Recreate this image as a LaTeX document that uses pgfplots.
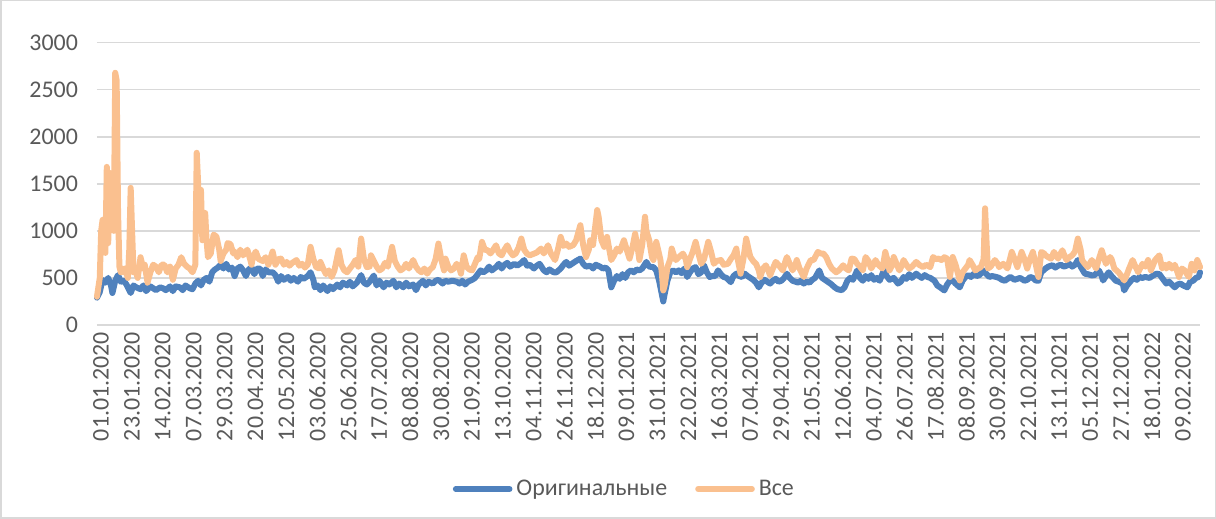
\documentclass[border=0pt]{standalone}
\usepackage{pgfplots}
\pgfplotsset{compat=1.18}
\usepackage{fontspec}
\setmainfont{Carlito}
\definecolor{blueS}{RGB}{79,129,189}
\definecolor{orangeS}{RGB}{250,192,143}
\definecolor{gridc}{RGB}{217,217,217}
\definecolor{txt}{RGB}{89,89,89}
\begin{document}
\begin{tikzpicture}
\draw[gridc, line width=0.75bp] (0.4bp,0.4bp) rectangle (607.6bp,259.1bp);
\begin{axis}[
  at={(48.5bp,97bp)}, anchor=south west, scale only axis,
  width=551.5bp, height=141.15bp,
  xmin=0, xmax=785, ymin=0, ymax=3000,
  ytick={0,500,...,3000},
  xtick={0,22,...,770},
  xticklabels={01.01.2020,23.01.2020,14.02.2020,07.03.2020,29.03.2020,20.04.2020,12.05.2020,03.06.2020,25.06.2020,17.07.2020,08.08.2020,30.08.2020,21.09.2020,13.10.2020,04.11.2020,26.11.2020,18.12.2020,09.01.2021,31.01.2021,22.02.2021,16.03.2021,07.04.2021,29.04.2021,21.05.2021,12.06.2021,04.07.2021,26.07.2021,17.08.2021,08.09.2021,30.09.2021,22.10.2021,13.11.2021,05.12.2021,27.12.2021,18.01.2022,09.02.2022},
  axis line style={draw=none},
  major tick length=0pt,
  ymajorgrids, grid style={gridc, line width=0.75bp},
  /pgf/number format/assume math mode=true,
  /pgf/number format/1000 sep={},
  tick label style={font=\fontsize{12}{14}\selectfont, text=txt},
  yticklabel style={xshift=-6bp},
  xticklabel style={rotate=90, anchor=east, yshift=-2bp},
  clip=false,
  legend style={at={(0.479,-0.581)}, anchor=center, draw=none, fill=none,
    legend columns=2, font=\fontsize{12}{14}\selectfont, text=txt,
    /tikz/every even column/.append style={column sep=12bp}},
  legend image code/.code={\draw[#1, line width=2.8bp, line cap=round] (0bp,0bp) -- (27bp,0bp);},
]
\addplot[blueS, line width=3bp, line join=round, line cap=round] coordinates {
(0,290) (2,350) (4,480) (6,450) (8,500) (10,420) (11,340) (13,470) (15,530) (17,460) (19,470) (21,430) (24,340) (26,420) (28,400) (31,380) (33,420) (35,360) (38,410) (40,390) (42,370) (45,400) (47,390) (49,370) (52,410) (54,360) (56,410) (59,400) (61,370) (63,420) (66,390) (68,380) (70,440) (72,470) (74,420) (76,480) (78,500) (80,460) (82,560) (84,590) (86,610) (88,640) (90,600) (92,650) (94,590) (96,610) (98,520) (100,600) (102,620) (104,580) (106,520) (108,590) (110,610) (112,540) (114,600) (116,600) (118,520) (120,590) (122,560) (125,560)
(127,530) (129,460) (131,520) (133,480) (136,510) (138,470) (140,500) (143,460) (145,510) (147,490) (150,520) (152,560) (154,480) (155,400) (157,420) (159,370) (161,420) (164,360) (166,410) (168,380) (171,430) (173,400) (175,450) (178,420) (180,460) (182,410) (185,450) (188,530) (190,450) (192,430) (194,460) (197,525) (199,420) (201,470) (204,400) (206,450) (208,430) (211,470) (213,400) (215,440) (218,400) (220,450) (222,410) (225,430) (227,370) (229,430) (232,470) (234,420) (236,460) (239,440) (241,470) (243,480) (246,440) (248,470) (250,460) (253,470) (256,460)
(258,440) (260,470) (262,430) (264,460) (267,480) (269,500) (271,540) (273,580) (275,560) (277,580) (279,620) (281,580) (284,615) (286,650) (288,600) (290,640) (292,660) (294,620) (297,650) (299,630) (302,660) (304,690) (306,630) (308,640) (311,600) (313,630) (315,650) (318,580) (320,560) (322,590) (325,560) (327,560) (330,600) (332,640) (334,670) (336,630) (339,660) (341,680) (344,705) (346,650) (348,620) (351,630) (353,600) (355,640) (358,620) (360,600) (362,610) (364,580) (366,400) (368,470) (370,520) (372,490) (374,540) (376,500) (378,560) (380,580) (382,560) (384,590) (386,580)
(388,600) (391,670) (393,620) (396,615) (398,580) (400,473) (403,250) (404,330) (406,473) (408,560) (410,580) (412,560) (414,580) (416,550) (418,600) (420,510) (422,560) (424,600) (426,615) (428,540) (430,560) (432,634) (434,560) (436,510) (438,520) (440,520) (442,580) (444,540) (446,510) (448,500) (451,455) (453,520) (455,545) (457,520) (459,510) (461,545) (463,520) (465,500) (467,480) (469,450) (471,400) (473,450) (475,480) (477,460) (479,440) (481,470) (483,490) (485,460) (487,470) (489,500) (491,545) (493,500) (495,470) (497,460) (499,450) (501,470) (503,440) (505,460) (507,450) (509,480) (511,500) (514,580)
(516,500) (518,480) (520,460) (522,440) (525,400) (527,380) (530,370) (532,400) (534,470) (536,500) (538,480) (541,580) (543,500) (545,470) (547,520) (549,490) (551,530) (553,480) (555,500) (557,470) (560,580) (562,520) (564,480) (567,500) (570,440) (572,460) (574,510) (576,490) (578,540) (580,500) (583,545) (585,520) (587,500) (589,530) (591,510) (593,500) (596,470) (598,420) (600,400) (603,367) (605,430) (607,470) (609,470) (611,440) (614,400) (616,470) (618,510) (620,530) (622,510) (624,545) (626,520) (628,530) (631,580) (633,540) (635,510) (637,520) (640,510) (642,500)
(644,480) (646,470) (648,490) (650,510) (653,480) (655,490) (657,500) (660,470) (662,480) (664,510) (666,500) (668,473) (670,470) (672,560) (675,600) (677,620) (680,635) (682,610) (684,630) (686,640) (688,620) (690,630) (692,650) (694,620) (696,640) (698,690) (700,620) (703,545) (705,540) (708,527) (710,530) (713,580) (715,520) (716,473) (718,520) (720,560) (722,520) (725,470) (727,460) (730,440) (731,367) (733,420) (736,473) (738,500) (740,480) (742,510) (744,500) (746,510) (749,500) (751,520) (754,545) (756,540) (758,500) (761,440) (763,460) (765,430) (767,400) (769,430) (771,440) (773,420) (776,400) (778,460) (780,470) (782,500) (784,510) (785,560)
};
\addlegendentry{Оригинальные}
\addplot[orangeS, line width=3bp, line join=round, line cap=round] coordinates {
(0,300) (2,500) (3,1000) (4,1117) (5,900) (6,766) (7,1680) (8,870) (9,1617) (10,1117) (11,1362) (12,1000) (13,2680) (14,2600) (15,1200) (16,617) (17,560) (18,600) (19,560) (20,600) (22,500) (23,800) (24,1457) (25,1000) (26,560) (27,600) (28,550) (29,500) (31,720) (33,600) (34,640) (36,450) (38,560) (40,640) (42,620) (44,560) (46,640) (48,640) (50,560) (52,620) (54,480) (56,600) (58,640) (60,720) (62,650) (64,620) (66,600) (68,560) (70,640) (71,1830) (72,1500) (73,1000) (74,1436) (75,900) (76,1000) (77,1190) (78,900) (79,720) (81,760) (83,960) (85,940) (87,800) (88,680) (90,760) (92,800) (93,870) (95,860) (97,760) (98,780) (100,720) (102,800) (104,740) (107,800) (109,700) (110,640) (111,720) (113,780) (115,700) (118,680) (120,720) (122,640) (125,780)
(127,640) (129,700) (131,705) (133,640) (135,670) (137,630) (139,660) (142,690) (144,630) (146,650) (148,610) (150,640) (152,830) (154,700) (156,615) (158,600) (159,670) (161,600) (163,540) (165,580) (167,510) (169,580) (172,794) (174,640) (176,580) (178,560) (180,600) (182,640) (184,690) (186,620) (188,918) (190,700) (192,615) (194,620) (195,740) (197,680) (199,620) (201,580) (203,600) (205,660) (207,620) (210,830) (212,680) (214,620) (216,580) (218,600) (220,650) (222,600) (225,690) (227,620) (229,580) (231,560) (233,600) (235,545) (237,590) (239,615) (241,700) (243,865) (245,700) (247,580) (248,705) (250,620) (252,580) (254,600) (256,650)
(258,600) (259,545) (261,740) (263,620) (265,590) (267,580) (269,650) (271,722) (272,700) (274,883) (276,800) (278,794) (280,760) (282,800) (284,847) (286,760) (288,740) (290,800) (292,847) (294,780) (296,740) (298,760) (300,820) (302,918) (304,800) (306,758) (308,740) (311,758) (313,770) (316,812) (318,760) (321,847) (323,760) (326,690) (328,800) (330,936) (332,840) (334,865) (336,830) (339,850) (341,900) (344,1060) (346,850) (348,722) (350,800) (351,900) (353,850) (355,1100) (356,1221) (357,1150) (359,900) (361,830) (363,936) (364,850) (366,690) (368,740) (370,812) (372,780) (375,900) (377,800) (379,705) (381,820) (383,970) (385,800)
(386,690) (388,850) (390,1150) (391,1000) (393,900) (395,720) (396,690) (398,883) (399,820) (401,690) (402,550) (403,367) (404,420) (406,615) (408,700) (409,812) (411,720) (412,690) (414,720) (417,758) (419,700) (420,615) (422,700) (424,780) (426,883) (428,760) (430,650) (432,700) (435,883) (437,780) (439,650) (441,680) (444,690) (446,640) (449,650) (451,700) (453,740) (455,812) (456,700) (458,545) (460,700) (462,918) (464,780) (465,722) (467,680) (469,650) (471,580) (472,510) (474,600) (476,634) (478,570) (479,527) (481,600) (483,670) (485,640) (488,580) (490,680) (491,722) (493,650) (495,580) (497,640) (498,690) (500,600) (503,510) (505,600) (508,690) (510,690) (513,776)
(515,760) (517,758) (519,720) (521,650) (523,600) (526,560) (528,580) (531,634) (533,600) (535,580) (537,705) (539,700) (541,650) (543,620) (545,580) (547,722) (549,680) (551,600) (553,650) (554,690) (556,640) (559,600) (561,776) (563,660) (564,580) (566,640) (567,722) (569,650) (571,580) (573,640) (574,690) (576,640) (578,600) (580,620) (583,670) (585,640) (588,615) (590,640) (593,615) (595,722) (597,700) (599,705) (601,690) (603,720) (605,705) (607,510) (609,722) (611,640) (614,473) (616,560) (618,600) (620,640) (621,690) (623,640) (625,580) (627,600) (629,615) (631,700) (632,1240) (633,900) (634,600) (636,620) (639,690) (641,650)
(642,615) (645,650) (648,600) (651,776) (653,700) (655,615) (658,776) (660,700) (662,600) (664,700) (666,776) (668,650) (670,510) (672,776) (674,760) (675,740) (677,720) (679,705) (681,776) (684,705) (687,794) (689,720) (690,690) (692,720) (694,740) (696,780) (698,918) (700,800) (701,690) (703,650) (705,615) (708,690) (711,600) (713,700) (715,794) (717,700) (718,650) (721,722) (722,700) (724,600) (727,560) (729,520) (731,473) (733,540) (734,580) (737,690) (739,620) (741,560) (744,650) (746,620) (748,690) (750,580) (753,690) (756,740) (758,600) (760,640) (761,600) (763,650) (765,600) (767,640) (768,600) (770,510) (772,600) (774,580) (777,510) (779,650) (781,580) (783,690) (785,615)
};
\addlegendentry{Все}
\end{axis}
\end{tikzpicture}
\end{document}
